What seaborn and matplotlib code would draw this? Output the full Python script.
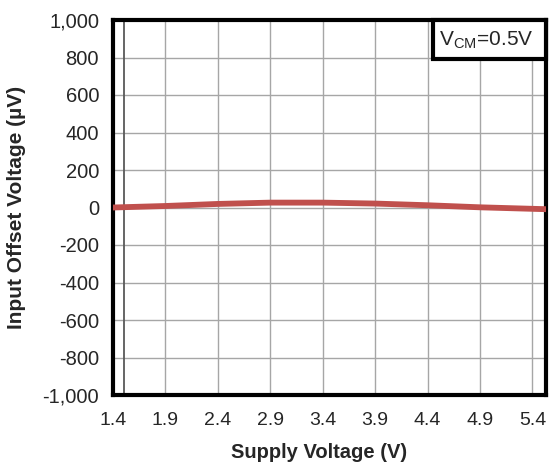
import pandas as pd
import matplotlib.pyplot as plt
import seaborn as sns
from matplotlib.patches import Rectangle

# data
supply_v = [1.4, 1.9, 2.4, 2.9, 3.4, 3.9, 4.4, 4.9, 5.4, 5.53]
offset_uv = [0, 8, 19, 26, 26, 21, 12, 1, -7, -9]
x_ticks = [1.4, 1.9, 2.4, 2.9, 3.4, 3.9, 4.4, 4.9, 5.4]
y_ticks = list(range(-1000, 1001, 200))
axis_cross_x = 1.505

df = pd.DataFrame({"Supply": supply_v, "Offset": offset_uv})

sns.set_style("white")
plt.rcParams["font.family"] = ["Liberation Sans", "DejaVu Sans"]

fig = plt.figure(figsize=(5.5, 4.66), dpi=100)
ax = fig.add_axes([113 / 550, 1 - 395 / 466, 433 / 550, 375 / 466])

sns.lineplot(data=df, x="Supply", y="Offset", ax=ax, color="#C0504D", linewidth=4.2,
             zorder=4)

ax.set_xlim(1.4, 5.53)
ax.set_ylim(-1000, 1000)
ax.set_xticks(x_ticks)
ax.set_yticks(y_ticks)
ax.set_xticklabels([f"{v:.1f}" for v in x_ticks])
ax.set_yticklabels([f"{v:,}" for v in y_ticks])
ax.grid(True, color="#A6A6A6", linewidth=1)
ax.set_axisbelow(True)
ax.axvline(axis_cross_x, color="#595959", linewidth=1.3, zorder=2)
ax.tick_params(axis="x", labelsize=14, length=0, pad=12)
ax.tick_params(axis="y", labelsize=14.5, length=0, pad=10)

for s in ax.spines.values():
    s.set_color("black")
    s.set_linewidth(3)

ax.set_xlabel("Supply Voltage (V)", fontsize=14.5, fontweight="bold", labelpad=10)
ax.xaxis.label.set_x(0.475)
ax.set_ylabel("Input Offset Voltage (µV)", fontsize=15, fontweight="bold", labelpad=12)

# condition box in the top right corner
ax.add_patch(Rectangle((0.739, 0.895), 0.261, 0.105, transform=ax.transAxes,
                       fc="white", ec="black", lw=3, zorder=5, clip_on=False))
ax.text(0.862, 0.946, r"V$_{\mathregular{CM}}$=0.5V", transform=ax.transAxes,
        ha="center", va="center", fontsize=15, zorder=6)

fig.savefig("out.png", dpi=100)
